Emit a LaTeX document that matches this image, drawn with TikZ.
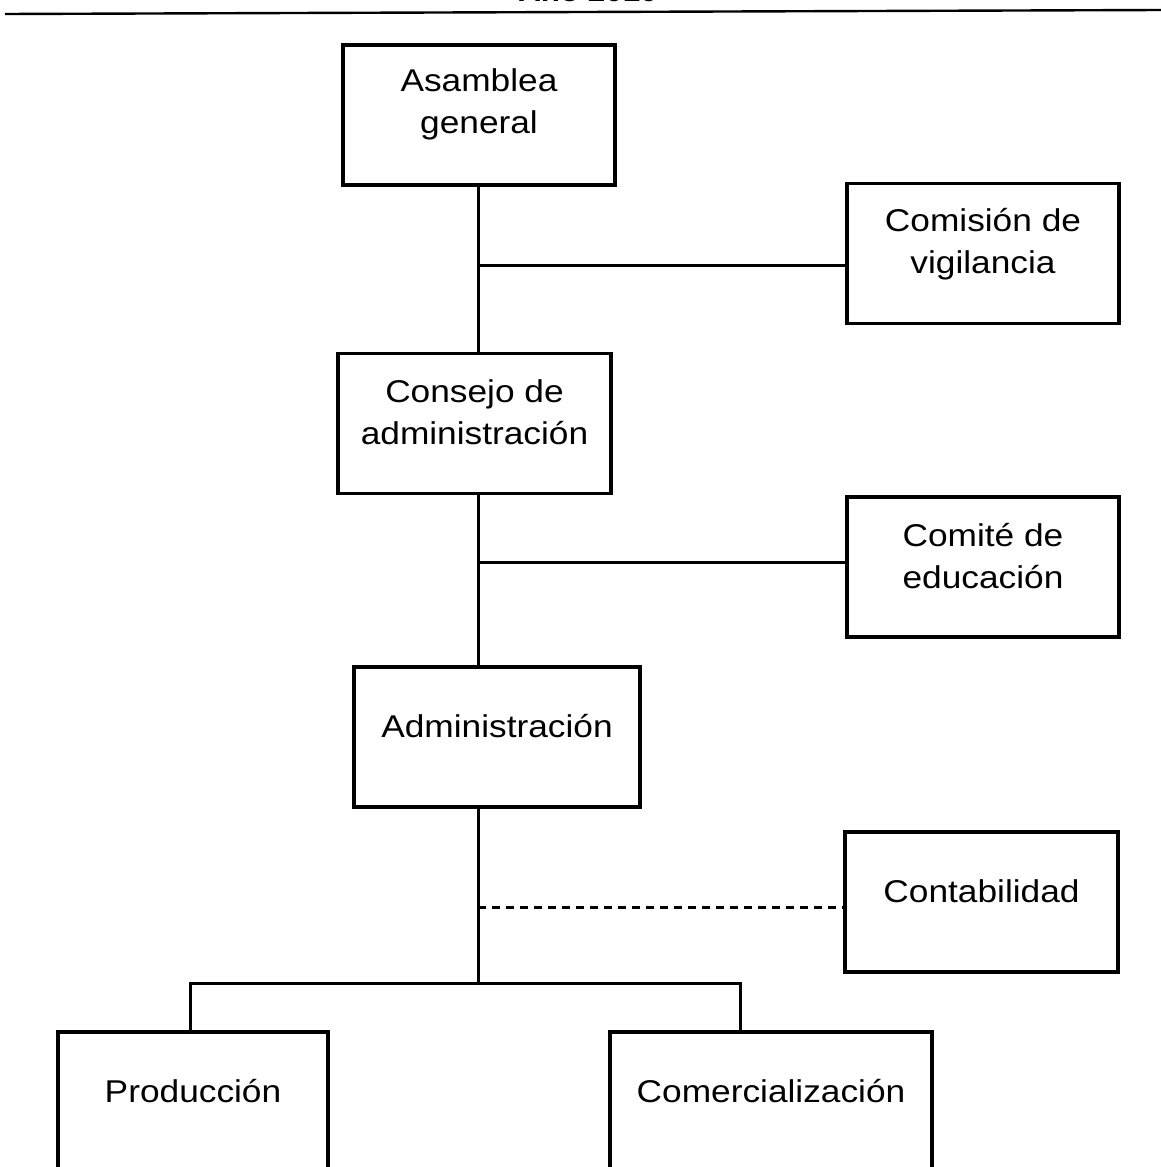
\documentclass[tikz,border=0pt]{standalone}
\usepackage{fontspec}
\setmainfont{Liberation Sans}[FakeStretch=1.12]
\begin{document}
\begin{tikzpicture}[x=1pt,y=-1pt,
  orgbox/.style={draw=black,line width=3.2pt,minimum width=#1,minimum height=140pt,inner sep=0pt},
  orgbox/.default=272pt,
  lbl/.style={font=\fontsize{31.5}{42}\selectfont,align=center,inner sep=0pt,yshift=11pt},
  link/.style={draw=black,line width=3pt},
  dotlink/.style={link,dash pattern=on 8pt off 6pt}]
\useasboundingbox (0,0) rectangle (1161,1167);
\clip (0,0) rectangle (1161,1167);
\fill[white] (0,0) rectangle (1161,1167);
% title and rule
\node[anchor=base,font=\fontsize{28}{34}\selectfont\bfseries,inner sep=0pt] (title) at (588,1.5) {Año 2010};
\coordinate (ruleL) at (5,14);
\coordinate (ruleR) at (1161,10);
\draw[line width=2.4pt] (ruleL) -- (ruleR);
% boxes
\node[orgbox] (asam)  at (479,115) {};
\node[orgbox] (comis) at (983,253.5) {};
\node[orgbox=273pt] (cons)  at (474.5,423.5) {};
\node[orgbox] (comit) at (983,567) {};
\node[orgbox=286pt] (admin) at (497,737) {};
\node[orgbox=273pt] (conta) at (981.5,902) {};
\node[orgbox=270pt] (prod)  at (193,1102) {};
\node[orgbox=322pt] (comer) at (771,1102) {};
% labels
\node[lbl] (tasam)  at (asam)  {Asamblea\\general};
\node[lbl,yshift=-2pt] (tcomis) at (comis) {Comisión de\\vigilancia};
\node[lbl] (tcons)  at (cons)  {Consejo de\\administración};
\node[lbl] (tcomit) at (comit) {Comité de\\educación};
\node[lbl] (tadmin) at (admin) {Administración};
\node[lbl] (tconta) at (conta) {Contabilidad};
\node[lbl] (tprod)  at (prod)  {Producción};
\node[lbl] (tcomer) at (comer) {Comercialización};
% trunk
\coordinate (trunk) at (478,0);
\coordinate (j1) at (478,265);
\coordinate (j2) at (478,562);
\coordinate (j3) at (478,907);
\coordinate (bar) at (478,983);
\draw[link] (asam.south -| trunk) -- (cons.north -| trunk);
\draw[link] (cons.south -| trunk) -- (admin.north -| trunk);
\draw[link] (admin.south -| trunk) -- (bar);
\draw[link] (j1) -- (j1 -| comis.west);
\draw[link] (j2) -- (j2 -| comit.west);
\draw[dotlink] (j3) -- (j3 -| conta.west);
\coordinate (dl) at (190,983);
\coordinate (dr) at (740,983);
\draw[link] (prod.north -| dl) -- (dl) -- (dr) -- (comer.north -| dr);
\end{tikzpicture}
\end{document}
